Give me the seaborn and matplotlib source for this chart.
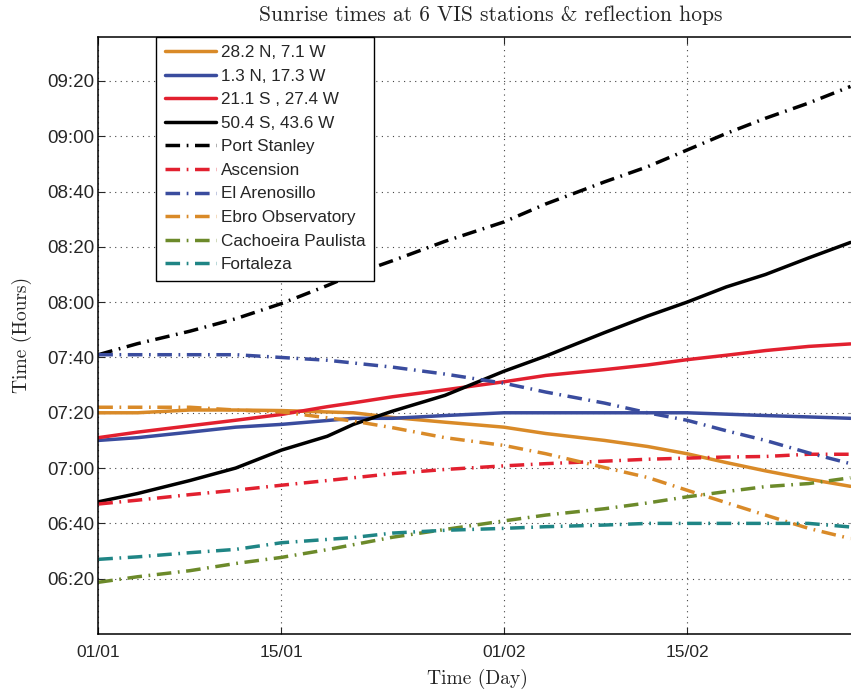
import numpy as np
import pandas as pd
import seaborn as sns
import matplotlib.pyplot as plt
from matplotlib.ticker import FuncFormatter

# days since 01/01 where the curves were read
days = [0, 3, 7, 10.5, 14, 17.5, 19.5, 22.5, 26.5, 31, 34.2, 38.7, 42, 45, 48, 51, 54.3, 57.5]

# sunrise times, minutes after midnight
hop_28n = [440, 440, 441, 441, 440.8, 440.3, 440, 438.3, 436.6, 434.8, 432.5, 430, 427.8, 425.2, 422, 419, 416, 413.4]
hop_1n = [430, 431, 433, 434.8, 435.8, 437.2, 438, 438, 439, 440, 440, 440, 440, 440, 439.5, 439, 438.5, 438]
hop_21s = [431, 433, 435.3, 437.3, 439.4, 442.2, 443.6, 445.8, 448.3, 451.2, 453.5, 455.6, 457.3, 459.2, 460.8, 462.5, 464, 464.9]
hop_50s = [407.8, 410.8, 415.5, 420, 426.5, 431.5, 435.8, 440.6, 446.3, 455, 460.5, 469, 475, 480, 485.5, 490, 496, 501.6]
port_stanley = [461, 465, 469.5, 474, 479.5, 486, 490, 495, 502, 509, 515.5, 523.5, 529, 535, 541, 546.5, 552, 558]
ascension = [407, 408.4, 410.4, 412, 413.8, 415.5, 416.5, 418, 419.5, 420.8, 421.6, 422.5, 423.2, 423.6, 424, 424.2, 425, 425]
arenosillo = [461, 461, 461, 461, 460, 459, 458, 456.5, 454, 450.7, 447.5, 443.5, 440, 437.3, 433.5, 430, 425.5, 421.6]
ebro = [442, 442, 442, 441, 440.3, 438.2, 437, 434.6, 431, 428.2, 425.2, 420.2, 416.6, 412, 407.5, 403, 398.2, 394.5]
cachoeira = [378.7, 380.7, 382.9, 385.5, 387.7, 390.5, 392.3, 395, 397.8, 400.9, 403, 405.3, 407.4, 409.6, 411.5, 413.3, 414.4, 416.5]
fortaleza = [387, 387.9, 389.4, 390.6, 393, 394.2, 394.9, 396.5, 397.5, 398.2, 398.8, 399.4, 400, 400, 400, 400, 400, 398.7]

names = ["28.2 N, 7.1 W", "1.3 N, 17.3 W", "21.1 S , 27.4 W", "50.4 S, 43.6 W",
         "Port Stanley", "Ascension", "El Arenosillo", "Ebro Observatory",
         "Cachoeira Paulista", "Fortaleza"]
values = [hop_28n, hop_1n, hop_21s, hop_50s, port_stanley, ascension,
          arenosillo, ebro, cachoeira, fortaleza]
colors = ["#D98A28", "#3A4C9E", "#E2202F", "#000000", "#000000", "#E2202F",
          "#3A4C9E", "#D98A28", "#6C8A2A", "#1F8585"]

xtick_pos = [0, 14, 31, 45]
xtick_lab = ["01/01", "15/01", "01/02", "15/02"]

df = pd.concat([pd.DataFrame({"day": days, "minutes": v, "series": n})
                for n, v in zip(names, values)], ignore_index=True)

sns.set_style("ticks")
plt.rcParams['font.family'] = ['Liberation Sans', 'DejaVu Sans']

fig = plt.figure(figsize=(8.51, 6.92), dpi=100)
ax = fig.add_axes([98.3 / 851, 1 - 634 / 692, (857 - 98.3) / 851, (634 - 36.7) / 692])

dashdot = (0, (4.2, 1.9, 0.5, 1.9))
for i, n in enumerate(names):
    ls = "-" if i < 4 else dashdot
    sns.lineplot(data=df[df.series == n], x="day", y="minutes", ax=ax,
                 color=colors[i], lw=2.5, linestyle=ls, label=n)

ax.set_xlim(0, 58)
ax.set_ylim(360, 576)
ax.set_xticks(xtick_pos)
ax.set_xticklabels(xtick_lab)
ax.set_yticks(np.arange(380, 561, 20))
ax.yaxis.set_major_formatter(FuncFormatter(lambda v, p: "%02d:%02d" % (v // 60, v % 60)))
ax.tick_params(direction="in", length=5, width=0.8, labelsize=12.5, top=True, right=True)
ax.tick_params(axis="y", pad=2.5, labelsize=13.5)
ax.tick_params(axis="x", pad=8)
ax.grid(True, color="#444444", lw=0.8, linestyle=(0, (1, 4)))
for s in ax.spines.values():
    s.set_linewidth(1.1)
    s.set_color("black")
ax.set_xlabel("")
ax.set_ylabel("")

leg = ax.legend(loc="upper left", bbox_to_anchor=((156 - 98.3) / 758.7, 1.0),
                borderaxespad=0, fontsize=12.3, handlelength=3.0, handletextpad=0.3,
                labelspacing=0.5, borderpad=0.5, fancybox=False, framealpha=1)
leg.get_frame().set_edgecolor("black")
leg.get_frame().set_linewidth(1.0)

fig.text(490.5 / 851, 1 - 15.5 / 692, "Sunrise times at 6 VIS stations & reflection hops",
         family="cmr10", fontsize=15.5, ha="center", va="center")
fig.text(477 / 851, 1 - 679 / 692, "Time (Day)", family="cmr10", fontsize=14,
         ha="center", va="center")
fig.text(22 / 851, 1 - 335 / 692, "Time (Hours)", family="cmr10", fontsize=14,
         ha="center", va="center", rotation=90)

fig.savefig("out.png", dpi=100)
